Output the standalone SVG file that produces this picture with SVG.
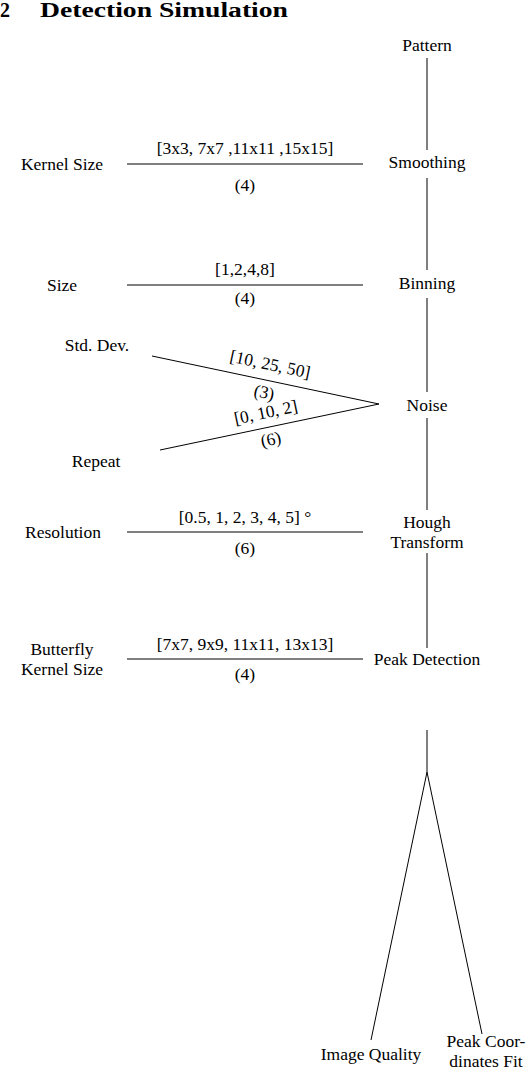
<svg xmlns="http://www.w3.org/2000/svg" width="526" height="1071" viewBox="0 0 526 1071">
<style>
text{font-family:"Liberation Serif","Times New Roman","DejaVu Serif",serif;font-size:17.5px;fill:#000;text-anchor:middle}
.title{font-size:20px;font-weight:bold;text-anchor:start}
.c line{stroke:#000;stroke-width:1}
</style>
<rect width="526" height="1071" fill="#fff"/>
<text class="title" x="0" y="17">2</text>
<text class="title" x="40" y="17" textLength="248" lengthAdjust="spacingAndGlyphs">Detection Simulation</text>
<g class="c" id="connectors">
<line x1="427" y1="58" x2="427" y2="150"/>
<line x1="427" y1="178" x2="427" y2="270"/>
<line x1="427" y1="298" x2="427" y2="392"/>
<line x1="427" y1="418" x2="427" y2="510"/>
<line x1="427" y1="553" x2="427" y2="648"/>
<line x1="427" y1="730" x2="427" y2="772"/>
<line x1="427" y1="772" x2="371" y2="1040"/>
<line x1="427" y1="772" x2="482" y2="1034"/>
<line x1="127" y1="164" x2="363" y2="164"/>
<line x1="127" y1="285" x2="363" y2="285"/>
<line x1="152" y1="356" x2="379" y2="404"/>
<line x1="160" y1="450" x2="379" y2="404"/>
<line x1="127" y1="532" x2="363" y2="532"/>
<line x1="127" y1="659" x2="363" y2="659"/>
<text x="245" y="154">[3x3, 7x7 ,11x11 ,15x15]</text>
<text x="245" y="191">(4)</text>
<text x="245" y="275">[1,2,4,8]</text>
<text x="245" y="304">(4)</text>
<text transform="translate(269,370) rotate(11.9)" x="0" y="0">[10, 25, 50]</text>
<text transform="translate(263,398) rotate(11.9)" x="0" y="0">(3)</text>
<text transform="translate(267,418) rotate(-11.9)" x="0" y="0">[0, 10, 2]</text>
<text transform="translate(272,445) rotate(-11.9)" x="0" y="0">(6)</text>
<text x="245" y="523">[0.5, 1, 2, 3, 4, 5] °</text>
<text x="245" y="554">(6)</text>
<text x="245" y="650">[7x7, 9x9, 11x11, 13x13]</text>
<text x="245" y="680">(4)</text>
</g>
<g id="pattern"><text x="427" y="51">Pattern</text></g>
<g id="smoothing"><text x="427" y="168">Smoothing</text></g>
<g id="binning"><text x="427" y="289">Binning</text></g>
<g id="noise"><text x="427" y="411">Noise</text></g>
<g id="hough"><text x="427" y="528">Hough</text><text x="427" y="548">Transform</text></g>
<g id="peak"><text x="427" y="665">Peak Detection</text></g>
<g id="imagequality"><text x="371" y="1060">Image Quality</text></g>
<g id="peakfit"><text x="486" y="1047">Peak Coor-</text><text x="486" y="1067">dinates Fit</text></g>
<g id="kernelsize"><text x="62" y="170">Kernel Size</text></g>
<g id="size"><text x="62" y="291">Size</text></g>
<g id="stddev"><text x="97" y="351">Std.  Dev.</text></g>
<g id="repeat"><text x="96" y="467">Repeat</text></g>
<g id="resolution"><text x="63" y="538">Resolution</text></g>
<g id="butterfly"><text x="62" y="655">Butterfly</text><text x="62" y="675">Kernel Size</text></g>
</svg>
